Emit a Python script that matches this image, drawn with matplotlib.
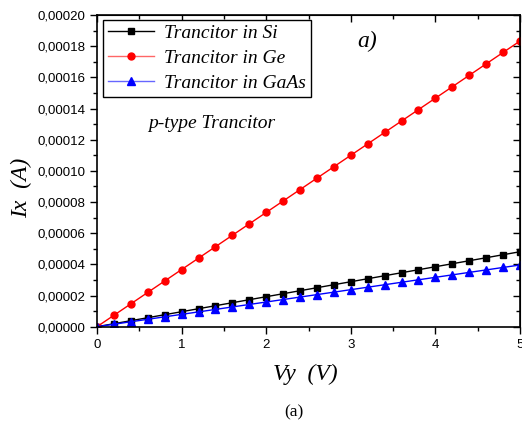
import numpy as np
import matplotlib.pyplot as plt
from matplotlib.ticker import MultipleLocator, FuncFormatter

# data (Vy step 0.2 V)
vy = [0.0, 0.2, 0.4, 0.6, 0.8, 1.0, 1.2, 1.4, 1.6, 1.8, 2.0, 2.2, 2.4,
      2.6, 2.8, 3.0, 3.2, 3.4, 3.6, 3.8, 4.0, 4.2, 4.4, 4.6, 4.8, 5.0]
ix_si = [0.0, 1.92e-6, 3.85e-6, 5.77e-6, 7.70e-6, 9.62e-6, 1.154e-5, 1.347e-5,
         1.539e-5, 1.732e-5, 1.924e-5, 2.116e-5, 2.309e-5, 2.501e-5, 2.694e-5,
         2.886e-5, 3.078e-5, 3.271e-5, 3.463e-5, 3.656e-5, 3.848e-5, 4.040e-5,
         4.233e-5, 4.425e-5, 4.618e-5, 4.810e-5]
ix_ge = [0.0, 7.33e-6, 1.466e-5, 2.200e-5, 2.933e-5, 3.666e-5, 4.399e-5, 5.132e-5,
         5.866e-5, 6.599e-5, 7.332e-5, 8.065e-5, 8.798e-5, 9.532e-5, 1.0265e-4,
         1.0998e-4, 1.1731e-4, 1.2464e-4, 1.3198e-4, 1.3931e-4, 1.4664e-4,
         1.5397e-4, 1.6130e-4, 1.6864e-4, 1.7597e-4, 1.8330e-4]
ix_gaas = [0.0, 1.58e-6, 3.17e-6, 4.75e-6, 6.34e-6, 7.92e-6, 9.50e-6, 1.109e-5,
           1.267e-5, 1.426e-5, 1.584e-5, 1.742e-5, 1.901e-5, 2.059e-5, 2.218e-5,
           2.376e-5, 2.534e-5, 2.693e-5, 2.851e-5, 3.010e-5, 3.168e-5, 3.326e-5,
           3.485e-5, 3.643e-5, 3.802e-5, 3.960e-5]
labels = ['Trancitor in Si', 'Trancitor in Ge', 'Trancitor in GaAs']

W, H = 522, 421
fig = plt.figure(figsize=(W / 100, H / 100), dpi=100)
ax = fig.add_axes([97 / W, 1 - 326.7 / H, 423 / W, 311.7 / H])

serif = 'Liberation Serif'
plt.rcParams['font.family'] = 'Liberation Sans'

ax.plot(vy, ix_si, color='black', lw=1, marker='s', ms=4.2, label=labels[0])
ax.plot(vy, ix_ge, color='red', lw=1, marker='o', ms=5, label=labels[1])
ax.plot(vy, ix_gaas, color='blue', lw=1, marker='^', ms=6, label=labels[2])

ax.set_xlim(0, 5)
ax.set_ylim(0, 0.0002)
ax.xaxis.set_major_locator(MultipleLocator(1))
ax.xaxis.set_minor_locator(MultipleLocator(0.5))
ax.yaxis.set_major_locator(MultipleLocator(0.00002))
ax.yaxis.set_minor_locator(MultipleLocator(0.00001))
ax.yaxis.set_major_formatter(FuncFormatter(lambda v, p: f'{v:.5f}'.replace('.', ',')))
ax.tick_params(which='major', direction='out', length=5, width=1, labelsize=9.5,
               labelfontfamily='Liberation Sans')
ax.tick_params(which='minor', direction='out', length=3, width=1)
for s in ax.spines.values():
    s.set_linewidth(1.2)

# mirrored ticks pointing inward on top/right
top = ax.secondary_xaxis('top')
top.xaxis.set_major_locator(MultipleLocator(1))
top.xaxis.set_minor_locator(MultipleLocator(0.5))
top.tick_params(which='major', direction='in', length=5, width=1, labeltop=False)
top.tick_params(which='minor', direction='in', length=3, width=1)
right = ax.secondary_yaxis('right')
right.yaxis.set_major_locator(MultipleLocator(0.00002))
right.yaxis.set_minor_locator(MultipleLocator(0.00001))
right.tick_params(which='major', direction='in', length=5, width=1, labelright=False)
right.tick_params(which='minor', direction='in', length=3, width=1)

leg = ax.legend(loc='upper left', bbox_to_anchor=(0.014, 0.985), fancybox=False,
                edgecolor='black', framealpha=1, handlelength=2.4, handletextpad=0.5,
                borderpad=0.25, labelspacing=0.38, borderaxespad=0,
                prop={'family': serif, 'style': 'italic', 'size': 14})
leg.get_frame().set_linewidth(1)
for h, lc, mc in zip(leg.get_lines(), ['black', '#ff6666', '#6666ff'],
                     ['black', 'red', 'blue']):
    h.set_color(lc)
    h.set_markerfacecolor(mc)
    h.set_markeredgecolor(mc)

fig.text(212 / W, 1 - 123 / H, 'p-type Trancitor', family=serif, style='italic',
         fontsize=14, ha='center', va='center')
fig.text(367 / W, 1 - 41 / H, 'a)', family=serif, style='italic',
         fontsize=17, ha='center', va='center')
fig.text(22 / W, 1 - 188 / H, 'Ix  (A)', family=serif, style='italic',
         fontsize=17, ha='center', va='center', rotation=90)
fig.text(305 / W, 1 - 374 / H, 'Vy  (V)', family=serif, style='italic',
         fontsize=17, ha='center', va='center')
fig.text(294 / W, 1 - 412 / H, '(a)', family=serif, fontsize=12.5,
         ha='center', va='center')

fig.savefig('out.png', dpi=100)
